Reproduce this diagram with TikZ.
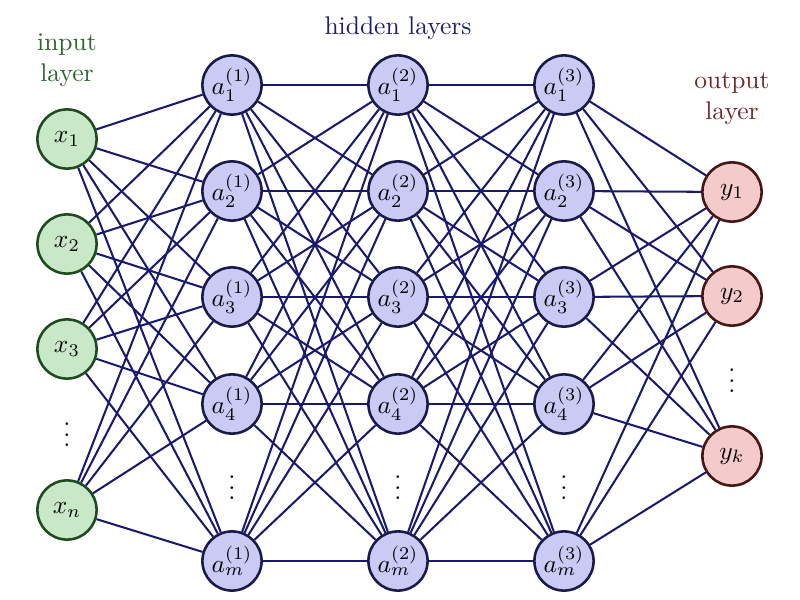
\documentclass[tikz,border=0pt]{standalone}
\definecolor{inpfill}{RGB}{200,232,200}
\definecolor{inpdraw}{RGB}{30,75,30}
\definecolor{inptext}{RGB}{45,100,45}
\definecolor{hidfill}{RGB}{202,202,245}
\definecolor{hiddraw}{RGB}{25,25,75}
\definecolor{hidtext}{RGB}{30,30,110}
\definecolor{outfill}{RGB}{244,202,202}
\definecolor{outdraw}{RGB}{70,20,20}
\definecolor{outtext}{RGB}{110,40,40}
\definecolor{edgecol}{RGB}{25,25,110}
\begin{document}
\begin{tikzpicture}[x=0.392pt,y=-0.392pt,
  neuron/.style={circle,minimum size=23.2pt,inner sep=0pt,line width=1pt},
  inpnode/.style={neuron,fill=inpfill,draw=inpdraw},
  hidnode/.style={neuron,fill=hidfill,draw=hiddraw},
  outnode/.style={neuron,fill=outfill,draw=outdraw},
  conn/.style={draw=edgecol,line width=0.8pt},
  dotsnode/.style={inner sep=0pt},
  title/.style={align=center,inner sep=0pt}]
\useasboundingbox (0,0) rectangle (800,600);
% input layer
\node[inpnode] (x1) at (67,139) {$x_1$};
\node[inpnode] (x2) at (67,244) {$x_2$};
\node[inpnode] (x3) at (67,349) {$x_3$};
\node[dotsnode] (xd) at (67,427) {$\vdots$};
\node[inpnode] (xn) at (67,510) {$x_n$};
\node[title,text=inptext] (tin) at (67,60) {input\\layer};
% hidden layers
\foreach \l/\xx in {1/232,2/398,3/564}{
  \node[hidnode] (h\l-1) at (\xx,85) {$a_1^{(\l)}$};
  \node[hidnode] (h\l-2) at (\xx,191) {$a_2^{(\l)}$};
  \node[hidnode] (h\l-3) at (\xx,297) {$a_3^{(\l)}$};
  \node[hidnode] (h\l-4) at (\xx,404) {$a_4^{(\l)}$};
  \node[dotsnode] (h\l-d) at (\xx,480) {$\vdots$};
  \node[hidnode] (h\l-5) at (\xx,561) {$a_m^{(\l)}$};
}
\node[title,text=hidtext] (thid) at (398,28) {hidden layers};
% output layer
\node[outnode] (y1) at (732,192) {$y_1$};
\node[outnode] (y2) at (732,296) {$y_2$};
\node[dotsnode] (yd) at (732,373) {$\vdots$};
\node[outnode] (yk) at (732,456) {$y_k$};
\node[title,text=outtext] (tout) at (732,99) {output\\layer};
% connections
\foreach \i in {x1,x2,x3,xn}{
  \foreach \j in {1,...,5}{
    \draw[conn] (\i) -- (h1-\j);
  }
}
\foreach \i in {1,...,5}{
  \foreach \j in {1,...,5}{
    \draw[conn] (h1-\i) -- (h2-\j);
    \draw[conn] (h2-\i) -- (h3-\j);
  }
  \foreach \o in {y1,y2,yk}{
    \draw[conn] (h3-\i) -- (\o);
  }
}
\end{tikzpicture}
\end{document}
